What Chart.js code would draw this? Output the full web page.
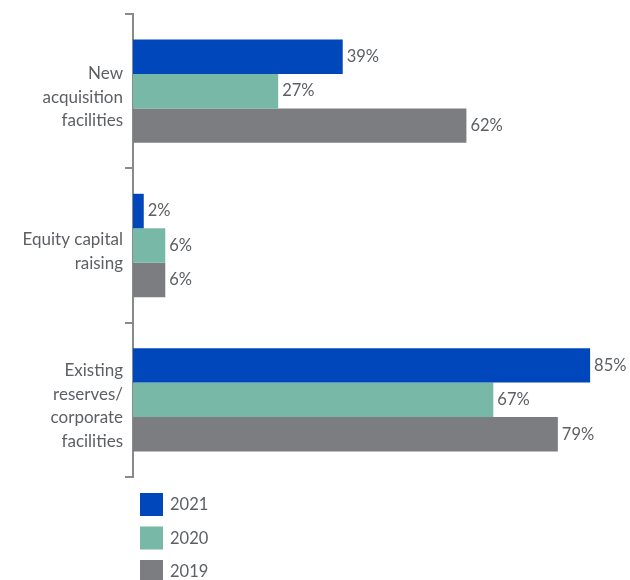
<!DOCTYPE html>
<html>
<head>
<meta charset="utf-8">
<script src="https://cdn.jsdelivr.net/npm/chart.js@4"></script>
<style>
  html, body { margin: 0; padding: 0; background: #fff; }
  #wrap { width: 630px; height: 580px; }
</style>
</head>
<body>
<div id="wrap"><canvas id="fundingChart"></canvas></div>
<script>
const categories = [
    ["New", "acquisition", "facilities"],
    ["Equity capital", "raising"],
    ["Existing", "reserves/", "corporate", "facilities"]
];
const years = ["2021", "2020", "2019"];
const values2021 = [39, 2, 85];
const values2020 = [27, 6, 67];
const values2019 = [62, 6, 79];
const colors = ["#0047bb", "#78b8a6", "#7b7d81"];

const textColor = "#5c5f63";
const fontFamily = "Lato, 'Noto Sans', sans-serif";

// percentage printed just past the end of each bar
const valueLabels = {
    id: "valueLabels",
    afterDatasetsDraw(chart) {
        const ctx = chart.ctx;
        ctx.save();
        ctx.font = "16.5px " + fontFamily;
        ctx.fillStyle = textColor;
        ctx.textBaseline = "middle";
        ctx.textAlign = "left";
        chart.data.datasets.forEach((ds, i) => {
            chart.getDatasetMeta(i).data.forEach((bar, j) => {
                ctx.fillText(ds.data[j] + "%", bar.x + 4, bar.y);
            });
        });
        ctx.restore();
    }
};

// stacked legend under the axis
const columnLegend = {
    id: "columnLegend",
    afterDraw(chart) {
        const ctx = chart.ctx;
        const left = chart.chartArea.left + 7;
        let top = chart.chartArea.bottom + 16;
        ctx.save();
        ctx.font = "16.5px " + fontFamily;
        ctx.textBaseline = "middle";
        chart.data.datasets.forEach(ds => {
            ctx.fillStyle = ds.backgroundColor;
            ctx.fillRect(left, top, 23, 23);
            ctx.fillStyle = textColor;
            ctx.fillText(ds.label, left + 30, top + 12);
            top += 33.5;
        });
        ctx.restore();
    }
};

new Chart(document.getElementById("fundingChart"), {
    type: "bar",
    data: {
        labels: categories,
        datasets: [
            { label: years[0], data: values2021, backgroundColor: colors[0] },
            { label: years[1], data: values2020, backgroundColor: colors[1] },
            { label: years[2], data: values2019, backgroundColor: colors[2] }
        ]
    },
    options: {
        indexAxis: "y",
        responsive: true,
        maintainAspectRatio: false,
        animation: false,
        layout: { padding: { top: 14, right: 13, bottom: 103, left: 0 } },
        datasets: {
            bar: { categoryPercentage: 0.67, barPercentage: 1.0 }
        },
        scales: {
            x: { display: false, min: 0, max: 90 },
            y: {
                afterFit(scale) {
                    scale.width = 133;
                    // tall multi-line labels must not push the plot down
                    scale.paddingTop = 0;
                    scale.paddingBottom = 0;
                },
                border: { color: "#8a8a8a", width: 2 },
                grid: {
                    drawOnChartArea: false,
                    color: "#8a8a8a",
                    lineWidth: 2,
                    tickLength: 8,
                    offset: true
                },
                ticks: {
                    color: textColor,
                    padding: 2,
                    labelOffset: 6,
                    font: { family: fontFamily, size: 17, lineHeight: 1.38 }
                }
            }
        },
        plugins: {
            legend: { display: false },
            tooltip: { enabled: false }
        }
    },
    plugins: [valueLabels, columnLegend]
});
</script>
</body>
</html>
